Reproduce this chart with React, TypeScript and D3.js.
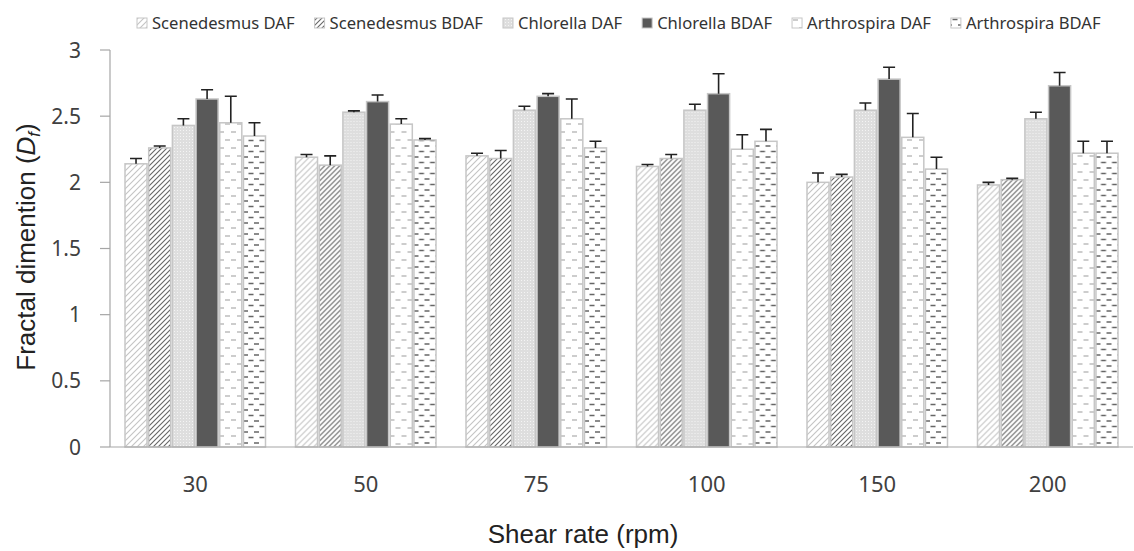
import React, { useEffect, useRef } from 'react';
import * as d3 from 'd3';

const rates = ['30', '50', '75', '100', '150', '200'];
const seriesNames = [
  'Scenedesmus DAF',
  'Scenedesmus BDAF',
  'Chlorella DAF',
  'Chlorella BDAF',
  'Arthrospira DAF',
  'Arthrospira BDAF',
];

// mean values per shear rate, one array per series
const scenedesmusDAF = [2.14, 2.19, 2.2, 2.12, 2.0, 1.98];
const scenedesmusBDAF = [2.26, 2.13, 2.18, 2.18, 2.04, 2.02];
const chlorellaDAF = [2.43, 2.53, 2.545, 2.545, 2.545, 2.48];
const chlorellaBDAF = [2.63, 2.61, 2.65, 2.67, 2.78, 2.73];
const arthrospiraDAF = [2.45, 2.44, 2.48, 2.25, 2.34, 2.22];
const arthrospiraBDAF = [2.35, 2.32, 2.26, 2.31, 2.1, 2.22];

// standard deviations (upper error bar)
const scenedesmusDAFErr = [0.04, 0.02, 0.02, 0.015, 0.07, 0.02];
const scenedesmusBDAFErr = [0.015, 0.07, 0.06, 0.03, 0.02, 0.01];
const chlorellaDAFErr = [0.05, 0.01, 0.03, 0.045, 0.055, 0.05];
const chlorellaBDAFErr = [0.07, 0.05, 0.02, 0.15, 0.09, 0.1];
const arthrospiraDAFErr = [0.2, 0.04, 0.15, 0.11, 0.18, 0.09];
const arthrospiraBDAFErr = [0.1, 0.01, 0.05, 0.09, 0.09, 0.09];

const yTicks = [0, 0.5, 1, 1.5, 2, 2.5, 3];

const values = [scenedesmusDAF, scenedesmusBDAF, chlorellaDAF, chlorellaBDAF, arthrospiraDAF, arthrospiraBDAF];
const errors = [scenedesmusDAFErr, scenedesmusBDAFErr, chlorellaDAFErr, chlorellaBDAFErr, arthrospiraDAFErr, arthrospiraBDAFErr];

const W = 1134;
const H = 551;

export default function App() {
  const svgRef = useRef<SVGSVGElement>(null);

  useEffect(() => {
    document.body.style.margin = '0';
    const svg = d3.select(svgRef.current);
    svg.selectAll('*').remove();

    const left = 110;
    const right = 1133;
    const top = 50;
    const bottom = 447;

    const defs = svg.append('defs');
    const pat = (id: string, w: number, h: number) =>
      defs.append('pattern').attr('id', id).attr('patternUnits', 'userSpaceOnUse').attr('width', w).attr('height', h);

    let p = pat('p0', 6, 6);
    p.append('rect').attr('width', 6).attr('height', 6).attr('fill', '#fff');
    p.append('path').attr('d', 'M0,6 L6,0 M-1,1 L1,-1 M5,7 L7,5').attr('stroke', '#c4c4c4').attr('stroke-width', 1.1);

    p = pat('p1', 5, 5);
    p.append('rect').attr('width', 5).attr('height', 5).attr('fill', '#fff');
    p.append('path').attr('d', 'M0,5 L5,0 M-1,1 L1,-1 M4,6 L6,4').attr('stroke', '#666').attr('stroke-width', 1.1);

    p = pat('p2', 3, 3);
    p.append('rect').attr('width', 3).attr('height', 3).attr('fill', '#dedede');
    p.append('rect').attr('x', 1).attr('y', 1).attr('width', 1).attr('height', 1).attr('fill', '#f4f4f4');

    p = pat('p4', 12, 16);
    p.append('rect').attr('width', 12).attr('height', 16).attr('fill', '#fff');
    p.append('path').attr('d', 'M1,4 h5 M7,12 h5').attr('stroke', '#bdbdbd').attr('stroke-width', 1.4);

    p = pat('p5', 11, 11);
    p.append('rect').attr('width', 11).attr('height', 11).attr('fill', '#fff');
    p.append('path').attr('d', 'M1,3 h5 M6.5,8.5 h5 M-4.5,8.5 h5').attr('stroke', '#666').attr('stroke-width', 1.4);

    const fills = ['url(#p0)', 'url(#p1)', 'url(#p2)', '#595959', 'url(#p4)', 'url(#p5)'];

    const x0 = d3.scaleBand<string>().domain(rates).range([left, right]);
    const x1 = d3.scaleBand<string>().domain(seriesNames).range([15, x0.bandwidth() - 15]).paddingInner(0.07);
    const y = d3.scaleLinear().domain([0, 3]).range([bottom, top]);

    // bars
    const groups = svg.append('g').selectAll('g').data(rates).join('g')
      .attr('transform', (d) => `translate(${x0(d)},0)`);
    seriesNames.forEach((name, si) => {
      groups.append('rect')
        .attr('x', x1(name)!)
        .attr('y', (_, i) => y(values[si][i]))
        .attr('width', x1.bandwidth())
        .attr('height', (_, i) => bottom - y(values[si][i]))
        .attr('fill', fills[si])
        .attr('stroke', '#c6c6c6')
        .attr('stroke-width', 1.5);
    });
    // error bars
    seriesNames.forEach((name, si) => {
      const cx = x1(name)! + x1.bandwidth() / 2;
      groups.append('path')
        .attr('d', (_, i) => {
          const y0 = y(values[si][i]);
          const y1 = y(values[si][i] + errors[si][i]);
          return `M${cx},${y0} V${y1} M${cx - 6},${y1} H${cx + 6}`;
        })
        .attr('fill', 'none')
        .attr('stroke', '#222')
        .attr('stroke-width', 1.6);
    });

    // axes
    svg.append('line').attr('x1', left).attr('x2', left).attr('y1', top).attr('y2', bottom)
      .attr('stroke', '#a6a6a6').attr('stroke-width', 1.2);
    svg.append('line').attr('x1', left).attr('x2', right).attr('y1', bottom).attr('y2', bottom)
      .attr('stroke', '#a6a6a6').attr('stroke-width', 1.2);

    const yt = svg.append('g');
    yTicks.forEach((t) => {
      yt.append('line').attr('x1', left - 10).attr('x2', left).attr('y1', y(t)).attr('y2', y(t))
        .attr('stroke', '#a6a6a6').attr('stroke-width', 1.2);
      yt.append('text').attr('x', 81).attr('y', y(t)).attr('dy', '0.36em')
        .attr('text-anchor', 'end').attr('font-family', 'Noto Sans').attr('font-size', 21)
        .attr('fill', '#404040').text(String(t));
    });

    rates.forEach((r) => {
      svg.append('text').attr('x', x0(r)! + x0.bandwidth() / 2).attr('y', 492)
        .attr('text-anchor', 'middle').attr('font-family', 'Noto Sans').attr('font-size', 22)
        .attr('fill', '#404040').text(r);
    });

    svg.append('text').attr('x', 583).attr('y', 543).attr('text-anchor', 'middle')
      .attr('font-family', 'Liberation Sans').attr('font-size', 26).attr('fill', '#222')
      .text('Shear rate (rpm)');

    const yl = svg.append('text').attr('transform', 'translate(35,247) rotate(-90)')
      .attr('text-anchor', 'middle').attr('font-family', 'Liberation Sans').attr('font-size', 26)
      .attr('fill', '#222');
    yl.append('tspan').text('Fractal dimention (');
    yl.append('tspan').attr('font-style', 'italic').text('D');
    yl.append('tspan').attr('font-style', 'italic').attr('font-size', 17).attr('dy', 5).text('f');
    yl.append('tspan').attr('dy', -5).text(')');

    // legend
    const lg = svg.append('g');
    let lx = 137;
    seriesNames.forEach((name, si) => {
      lg.append('rect').attr('x', lx).attr('y', 18).attr('width', 10).attr('height', 10)
        .attr('fill', fills[si]).attr('stroke', '#c6c6c6').attr('stroke-width', 1);
      const t = lg.append('text').attr('x', lx + 15).attr('y', 23).attr('dy', '0.36em')
        .attr('font-family', 'Noto Sans').attr('font-size', 16.6).attr('fill', '#333').text(name);
      const w = (t.node() as SVGTextElement).getComputedTextLength();
      lx += 15 + w + 20;
    });
  }, []);

  return <svg ref={svgRef} width={W} height={H} style={{ display: 'block', background: '#fff' }} />;
}
